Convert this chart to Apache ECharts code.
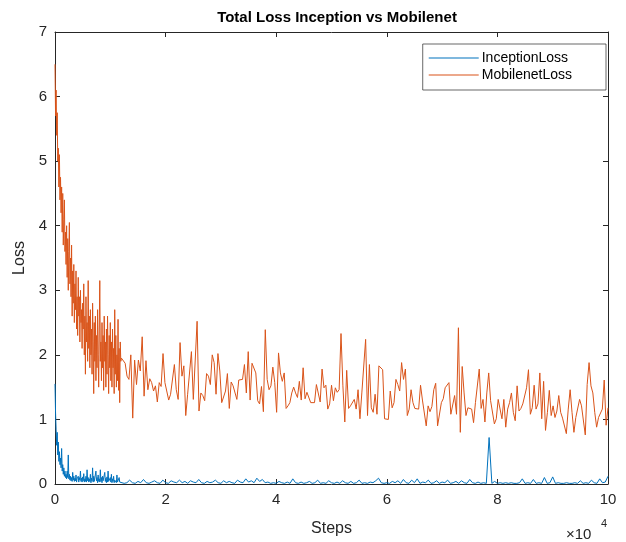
<!DOCTYPE html>
<html>
<head>
<meta charset="utf-8">
<script src="https://cdn.jsdelivr.net/npm/echarts@6/dist/echarts.min.js"></script>
<style>
  html, body { margin: 0; padding: 0; background: #fff; }
  #chart { width: 626px; height: 542px; }
</style>
</head>
<body>
<div id="chart"></div>
<script>
// Series names
const seriesNames = ['InceptionLoss', 'MobilenetLoss'];

// X tick labels (steps / 1e4)
const xTicks = [0, 2, 4, 6, 8, 10];

// Early training, one value every 100 steps (0 .. 12000)
const denseStart = 0;
const denseEnd = 12000;

const inceptionDense = [
  1.55, 1.10, 0.85, 0.60, 0.80, 0.45, 0.65, 0.35, 0.50, 0.30,
  0.40, 0.25, 0.55, 0.20, 0.30, 0.15, 0.25, 0.12, 0.20, 0.10,
  0.15, 0.08, 0.20, 0.10, 0.45, 0.08, 0.15, 0.06, 0.12, 0.05,
  0.10, 0.04, 0.18, 0.06, 0.12, 0.04, 0.09, 0.05, 0.14, 0.03,
  0.08, 0.05, 0.12, 0.03, 0.10, 0.06, 0.20, 0.04, 0.09, 0.03,
  0.11, 0.05, 0.16, 0.03, 0.08, 0.04, 0.12, 0.03, 0.22, 0.05,
  0.10, 0.03, 0.08, 0.04, 0.15, 0.02, 0.09, 0.05, 0.25, 0.03,
  0.12, 0.04, 0.07, 0.03, 0.20, 0.05, 0.10, 0.02, 0.14, 0.04,
  0.08, 0.03, 0.22, 0.04, 0.10, 0.02, 0.12, 0.05, 0.08, 0.03,
  0.18, 0.04, 0.09, 0.02, 0.11, 0.03, 0.20, 0.04, 0.07, 0.02,
  0.10, 0.03, 0.15, 0.02, 0.08, 0.04, 0.12, 0.02, 0.06, 0.03,
  0.09, 0.02, 0.14, 0.03, 0.06, 0.02, 0.10, 0.03, 0.05, 0.02,
  0.02
];

const mobilenetDense = [
  6.50, 5.70, 6.10, 5.40, 5.75, 5.00, 5.20, 4.60, 5.10, 4.40,
  4.75, 4.20, 4.60, 3.90, 4.50, 3.70, 4.10, 4.40, 3.60, 3.90,
  3.40, 4.00, 3.20, 3.80, 3.00, 3.60, 4.05, 3.10, 3.50, 2.90,
  3.70, 2.60, 3.30, 2.80, 3.40, 2.50, 3.10, 2.70, 3.30, 2.40,
  2.90, 2.30, 3.20, 2.60, 2.90, 2.20, 3.00, 2.50, 2.70, 2.10,
  2.80, 2.40, 3.10, 2.00, 2.60, 1.70, 2.90, 2.20, 2.50, 1.90,
  3.15, 2.10, 2.60, 1.80, 2.70, 2.00, 2.40, 1.70, 2.80, 2.20,
  1.40, 2.50, 1.90, 2.60, 1.60, 2.30, 1.80, 2.70, 2.00, 1.50,
  2.40, 3.15, 1.90, 2.20, 1.60, 2.50, 1.80, 2.30, 1.45, 2.60,
  1.90, 2.20, 1.50, 2.40, 1.70, 2.60, 2.00, 1.40, 2.30, 1.80,
  2.50, 1.60, 2.20, 1.50, 2.40, 1.80, 2.10, 1.40, 2.70, 1.70,
  2.30, 1.50, 2.00, 1.60, 2.55, 1.45, 2.10, 1.26, 2.20, 1.90,
  1.95
];

// Later training, sparser logging (12000 .. 100000)
const inceptionSparse = [
  0.03, 0.01, 0.02, 0.06, 0.02, 0.01, 0.04, 0.02, 0.07, 0.02,
  0.01, 0.03, 0.05, 0.02, 0.01, 0.06, 0.02, 0.01, 0.05, 0.03,
  0.02, 0.06, 0.02, 0.04, 0.01, 0.05, 0.03, 0.02, 0.07, 0.02,
  0.01, 0.04, 0.02, 0.03, 0.06, 0.02, 0.01, 0.05, 0.02, 0.04,
  0.02, 0.01, 0.06, 0.03, 0.02, 0.08, 0.03, 0.05, 0.02, 0.09,
  0.04, 0.07, 0.02, 0.03, 0.01, 0.02, 0.01, 0.04, 0.02, 0.01,
  0.03, 0.01, 0.08, 0.02, 0.01, 0.03, 0.01, 0.02, 0.04, 0.01,
  0.02, 0.06, 0.01, 0.02, 0.01, 0.05, 0.02, 0.01, 0.03, 0.01,
  0.05, 0.02, 0.01, 0.04, 0.01, 0.02, 0.06, 0.01, 0.02, 0.01,
  0.03, 0.02, 0.05, 0.09, 0.02, 0.01, 0.02, 0.01, 0.04, 0.02,
  0.05, 0.01, 0.07, 0.02, 0.01, 0.06, 0.02, 0.08, 0.01, 0.03,
  0.02, 0.06, 0.01, 0.02, 0.05, 0.01, 0.03, 0.02, 0.06, 0.01,
  0.02, 0.04, 0.01, 0.05, 0.02, 0.01, 0.07, 0.02, 0.01, 0.03,
  0.01, 0.02, 0.01, 0.72, 0.01, 0.04, 0.01, 0.02, 0.01, 0.02,
  0.01, 0.02, 0.01, 0.01, 0.02, 0.08, 0.01, 0.02, 0.01, 0.07,
  0.01, 0.02, 0.01, 0.10, 0.01, 0.02, 0.11, 0.01, 0.02, 0.01,
  0.01, 0.02, 0.01, 0.01, 0.02, 0.01, 0.05, 0.01, 0.02, 0.01,
  0.06, 0.02, 0.01, 0.08, 0.02, 0.03, 0.12
];

const mobilenetSparse = [
  // ~1.2e4 .. 3.4e4
  1.26, 1.92, 1.87, 1.67, 1.62, 2.00, 1.02, 1.92, 1.54, 1.92,
  1.75, 2.28, 1.36, 1.91, 1.46, 1.63, 1.57, 1.44, 1.52, 1.27,
  1.57, 1.51, 2.02, 1.57, 1.55, 1.30, 1.39, 1.38, 1.85, 1.46,
  1.31, 2.19, 1.67, 1.83, 1.06, 1.39, 1.39, 2.05, 1.31, 1.31,
  2.52, 1.13, 1.41, 1.37, 1.29, 1.71, 1.67, 1.54, 2.00, 1.88,
  1.39, 2.02, 1.75, 1.26, 1.29, 1.44, 1.71, 1.17, 1.58, 1.52,
  1.54, 1.31, 1.61, 1.64,
  // ~3.4e4 .. 5.7e4
  1.62, 1.85, 1.41, 2.05, 1.30, 1.87, 1.90, 1.72, 1.29, 1.24,
  1.51, 1.12, 2.39, 1.62, 1.46, 1.52, 1.81, 1.57, 1.11, 2.03,
  1.72, 1.59, 1.72, 1.17, 1.21, 1.26, 1.41, 1.50, 1.41, 1.34,
  1.59, 1.30, 1.80, 1.32, 1.42, 1.42, 1.26, 1.26, 1.26, 1.54,
  1.53, 1.27, 1.78, 1.49, 1.53, 1.16, 1.24, 1.53, 1.29, 1.49,
  1.42, 1.46, 2.33, 1.52, 0.96, 1.76, 1.17, 1.21, 1.21, 1.31,
  1.16, 1.46, 1.01, 1.41, 1.41, 2.24, 1.06,
  // ~5.7e4 .. 7.9e4
  1.85, 1.18, 1.11, 1.39, 1.08, 1.83, 1.85, 1.77, 1.01, 1.02,
  1.00, 1.44, 1.18, 1.26, 1.62, 1.54, 1.44, 1.88, 1.62, 1.78,
  1.06, 1.16, 1.46, 1.26, 1.17, 1.15, 1.16, 1.53, 1.30, 1.31,
  0.90, 1.21, 1.12, 1.20, 1.46, 1.56, 0.90, 0.88, 1.26, 1.32,
  1.49, 1.52, 1.57, 1.08, 1.11, 1.37, 1.08, 2.42, 0.80, 1.82,
  1.41, 1.06, 1.18, 1.17, 1.16, 0.95, 1.26, 1.27, 1.78, 1.17,
  1.31, 0.96, 1.41, 1.72, 1.29, 1.26, 0.93,
  // ~7.9e4 .. 1.0e5
  1.01, 1.31, 1.30, 1.01, 1.31, 0.88, 1.16, 1.26, 1.41, 1.11,
  0.98, 1.52, 1.13, 1.17, 1.24, 1.26, 1.49, 1.77, 1.08, 1.18,
  1.53, 1.16, 1.24, 1.72, 1.01, 1.59, 0.83, 1.11, 1.45, 1.06,
  1.21, 1.03, 1.13, 1.37, 1.11, 1.02, 1.00, 0.78, 1.16, 1.46,
  1.11, 0.80, 1.03, 1.01, 1.31, 1.21, 1.20, 0.76, 1.54, 1.88,
  1.52, 1.41, 1.11, 0.88, 1.03, 1.06, 1.16, 1.61, 0.91, 1.18
];

const sparseStart = 12000;
const sparseEnd = 100000;

// pair values with their step positions
function toPoints(vals, start, end) {
  const step = (end - start) / (vals.length - 1);
  return vals.map((v, i) => [start + i * step, v]);
}

const inceptionData = toPoints(inceptionDense, denseStart, denseEnd)
  .concat(toPoints(inceptionSparse, sparseStart, sparseEnd).slice(1));
const mobilenetData = toPoints(mobilenetDense, denseStart, denseEnd)
  .concat(toPoints(mobilenetSparse, sparseStart, sparseEnd).slice(1));

const chart = echarts.init(document.getElementById('chart'));

const axisColor = '#262626';
const font = 'Liberation Sans, Helvetica, Arial, sans-serif';
const blue = '#0072BD';
const orange = '#D95319';

// a mirrored axis (top/right) with inside ticks and no labels
function mirrorAxis(extra) {
  return Object.assign({
    type: 'value',
    axisLine: { show: true, onZero: false, lineStyle: { color: axisColor, width: 1 } },
    axisTick: { show: true, inside: true, length: 5, lineStyle: { color: axisColor } },
    axisLabel: { show: false },
    splitLine: { show: false }
  }, extra);
}

chart.setOption({
  animation: false,
  title: {
    text: 'Total Loss Inception vs Mobilenet',
    left: 332, top: 5, textAlign: 'center',
    textStyle: { fontFamily: font, fontSize: 15, fontWeight: 'bold', color: '#000' }
  },
  graphic: [
    { type: 'text', left: 566, top: 527,
      style: { text: '×10', font: '15px ' + font, fill: axisColor } },
    { type: 'text', left: 601, top: 518,
      style: { text: '4', font: '11px ' + font, fill: axisColor } }
  ],
  grid: { left: 55, right: 18, top: 32, bottom: 53 },
  legend: {
    orient: 'vertical',
    right: 20, top: 44,
    icon: 'rect',
    itemWidth: 50, itemHeight: 1.2, itemGap: 3,
    padding: [7, 34, 8, 6],
    backgroundColor: '#fff',
    borderColor: axisColor, borderWidth: 0.7, borderRadius: 0,
    textStyle: { fontFamily: font, fontSize: 14, color: '#000', padding: [0, 0, 0, -2] },
    data: seriesNames
  },
  xAxis: [{
    type: 'value', min: 0, max: 100000, interval: 20000,
    name: 'Steps', nameLocation: 'middle', nameGap: 37,
    nameTextStyle: { fontFamily: font, fontSize: 16, color: axisColor },
    axisLine: { show: true, onZero: false, lineStyle: { color: axisColor, width: 1 } },
    axisTick: { show: true, inside: true, length: 5, lineStyle: { color: axisColor } },
    axisLabel: {
      fontFamily: font, fontSize: 15, color: axisColor, margin: 8,
      formatter: v => String(xTicks[Math.round(v / 20000)])
    },
    splitLine: { show: false }
  }, mirrorAxis({ position: 'top', min: 0, max: 100000, interval: 20000 })],
  yAxis: [{
    type: 'value', min: 0, max: 7, interval: 1,
    name: 'Loss', nameLocation: 'middle', nameGap: 26,
    nameTextStyle: { fontFamily: font, fontSize: 16, color: axisColor },
    axisLine: { show: true, onZero: false, lineStyle: { color: axisColor, width: 1 } },
    axisTick: { show: true, inside: true, length: 5, lineStyle: { color: axisColor } },
    axisLabel: { fontFamily: font, fontSize: 15, color: axisColor, margin: 8 },
    splitLine: { show: false }
  }, mirrorAxis({ position: 'right', min: 0, max: 7, interval: 1 })],
  series: [{
    name: seriesNames[0],
    type: 'line',
    data: inceptionData,
    symbol: 'none',
    lineStyle: { color: blue, width: 1 },
    itemStyle: { color: blue }
  }, {
    name: seriesNames[1],
    type: 'line',
    data: mobilenetData,
    symbol: 'none',
    lineStyle: { color: orange, width: 1 },
    itemStyle: { color: orange }
  }]
});
</script>
</body>
</html>
